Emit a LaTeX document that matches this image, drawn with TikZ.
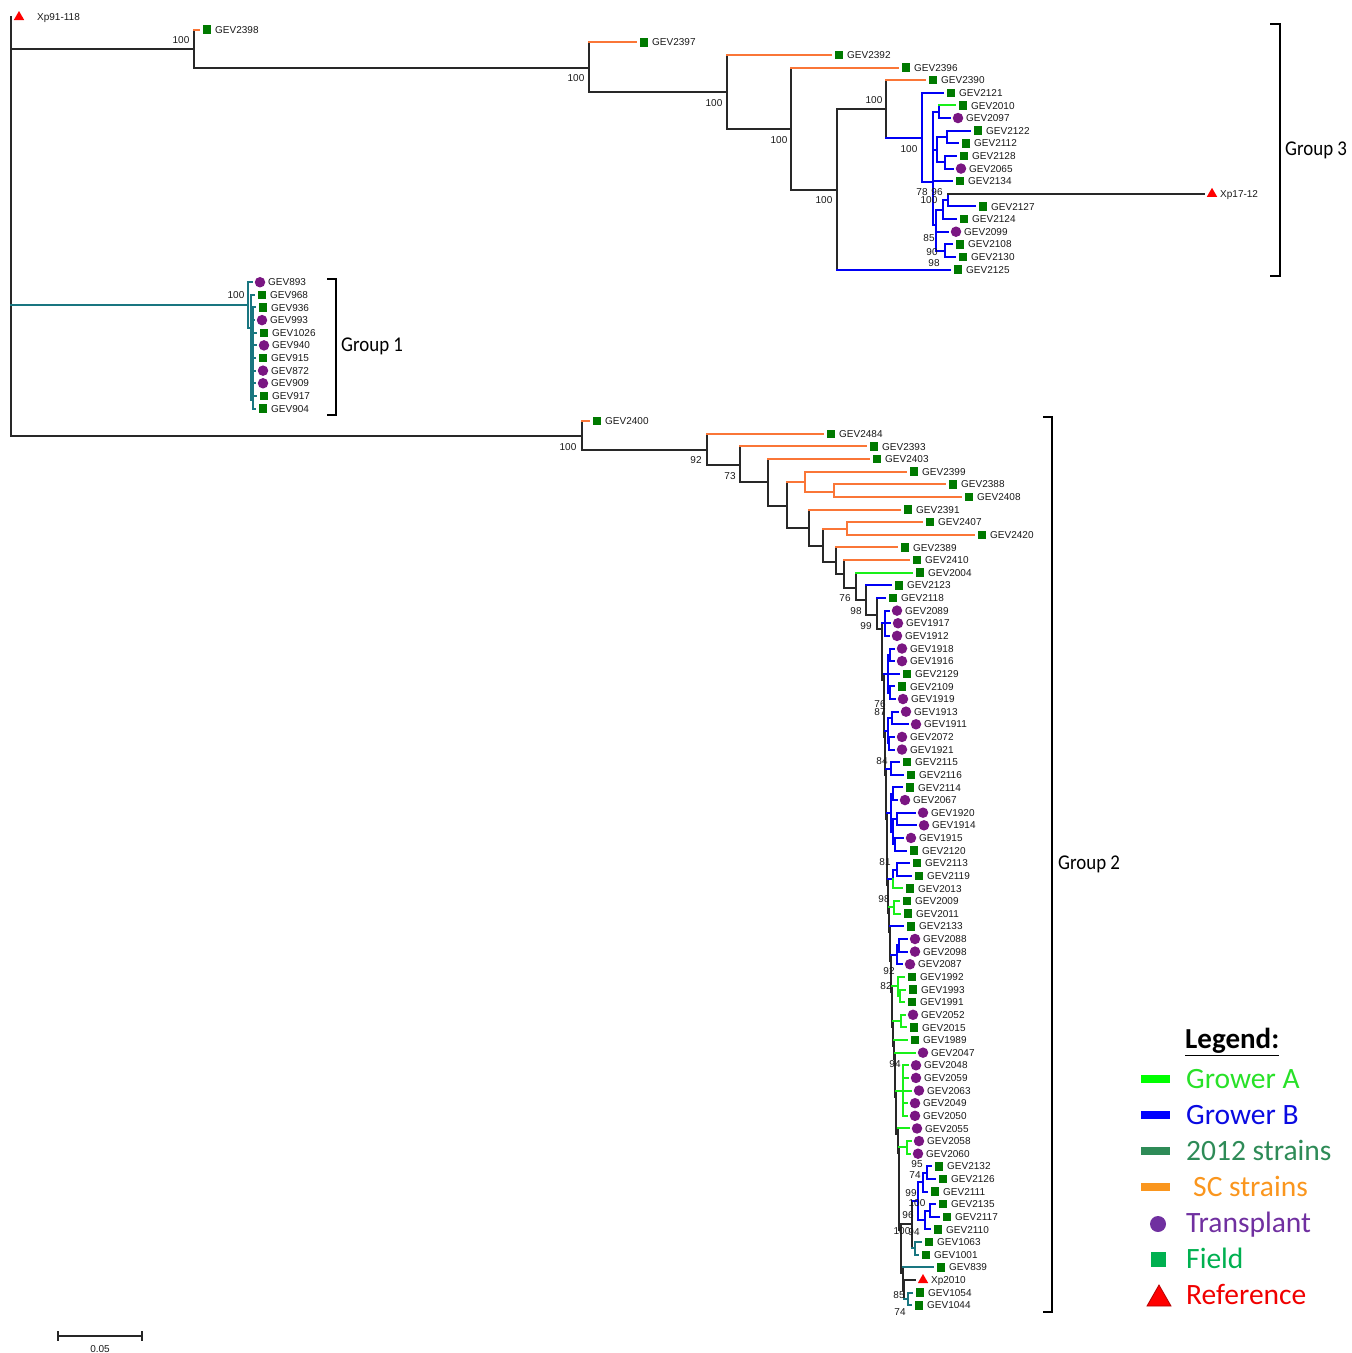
\documentclass[tikz,border=0pt]{standalone}
\usepackage{fontspec}
\setmainfont{Liberation Sans}
\newfontfamily\carlito{Carlito}
\usepackage{graphicx}
\usetikzlibrary{shapes.geometric}
\definecolor{orng}{RGB}{250,118,55}
\definecolor{grn}{RGB}{25,240,25}
\definecolor{blu}{RGB}{0,0,245}
\definecolor{tl}{RGB}{25,118,128}
\definecolor{blk}{RGB}{40,40,40}
\definecolor{sqg}{RGB}{0,122,0}
\definecolor{purp}{RGB}{122,22,130}
\definecolor{lgA}{RGB}{40,225,40}
\definecolor{lgB}{RGB}{10,10,225}
\definecolor{lg12}{RGB}{46,139,87}
\definecolor{lgSC}{RGB}{250,150,30}
\definecolor{lgT}{RGB}{112,48,160}
\definecolor{lgF}{RGB}{0,176,80}
\definecolor{lgR}{RGB}{240,0,0}
\newcommand\Y[1]{17+12.63*#1}
\tikzset{
 brl/.style={line width=2pt,line cap=rect},
 lbl/.style={anchor=west,inner sep=0pt,text=black!90,font=\fontsize{10}{12}\selectfont,text height=7.2pt,text depth=0pt},
 bs/.style={inner sep=0pt,text=black!90,font=\fontsize{10}{12}\selectfont,text height=7.2pt,text depth=0pt},
 mksq/.style={rectangle,fill=sqg,minimum size=8.5pt,inner sep=0pt},
 mkci/.style={circle,fill=purp,minimum size=10.5pt,inner sep=0pt},
 mktr/.style={regular polygon,regular polygon sides=3,fill=red,minimum size=12pt,inner sep=0pt},
 grp/.style={anchor=west,inner sep=0pt,font=\carlito\fontsize{21}{24}\selectfont},
 legt/.style={anchor=west,inner sep=0pt,font=\carlito\fontsize{29.5}{32}\selectfont,text height=19.5pt,text depth=0pt},
 bracket/.style={line width=1.8pt,black},
}
\newcommand\leaf[6]{%
 \draw[brl,#4] (#2,\Y{#1}) -- (#3,\Y{#1});
 \node[#5] (m#1) at ({#3+8},\Y{#1}) {};
 \node[lbl] (t#1) at ({#3+16},\Y{#1}) {#6};
}
\begin{document}
\begin{tikzpicture}[x=1pt,y=-1pt]
\useasboundingbox (0,0) rectangle (1352,1353);
% ---------- root and group 3 ----------
\draw[brl,blk] (11,\Y{0}) -- (11,436);
\node[mktr] (m0) at (19,\Y{0}) {};
\node[lbl] (t0) at (37,\Y{0}) {Xp91-118};
\draw[brl,blk] (11,49) -- (194,49);
\draw[brl,blk] (194,\Y{1}) -- (194,68) -- (589,68);
\draw[brl,blk] (589,\Y{2}) -- (589,92) -- (727,92);
\draw[brl,blk] (727,\Y{3}) -- (727,129) -- (791,129);
\draw[brl,blk] (791,\Y{4}) -- (791,190) -- (837,190);
\draw[brl,blk] (837,\Y{20}) -- (837,109) -- (886,109);
\draw[brl,blk] (886,\Y{5}) -- (886,138);
\draw[brl,blu] (886,138) -- (922,138);
\draw[brl,blu] (922,\Y{6}) -- (922,182) -- (933,182);
\draw[brl,blu] (933,111.7) -- (933,225);
\draw[brl,blu] (933,111.7) -- (939,111.7) (939,\Y{7}) -- (939,\Y{8});
\draw[brl,blu] (933,149.6) -- (937,149.6) (937,137) -- (937,162.3)
  (937,137) -- (947,137) (947,\Y{9}) -- (947,\Y{10})
  (937,162.3) -- (945,162.3) (945,\Y{11}) -- (945,\Y{12});
\draw[brl,blu] (933,225) -- (936,225) (936,209.6) -- (936,250.6)
  (936,209.6) -- (943,209.6) (943,200.1) -- (943,\Y{16})
  (943,200.1) -- (948,200.1) (948,\Y{14}) -- (948,\Y{15})
  (936,250.6) -- (945,250.6) (945,\Y{18}) -- (945,\Y{19});
\leaf{1}{194}{199}{orng}{mksq}{GEV2398}
\leaf{2}{589}{636}{orng}{mksq}{GEV2397}
\leaf{3}{727}{831}{orng}{mksq}{GEV2392}
\leaf{4}{791}{898}{orng}{mksq}{GEV2396}
\leaf{5}{886}{925}{orng}{mksq}{GEV2390}
\leaf{6}{922}{943}{blu}{mksq}{GEV2121}
\leaf{7}{939}{955}{grn}{mksq}{GEV2010}
\leaf{8}{939}{950}{blu}{mkci}{GEV2097}
\leaf{9}{947}{970}{blu}{mksq}{GEV2122}
\leaf{10}{947}{958}{blu}{mksq}{GEV2112}
\leaf{11}{945}{956}{blu}{mksq}{GEV2128}
\leaf{12}{945}{953}{blu}{mkci}{GEV2065}
\leaf{13}{933}{952}{blu}{mksq}{GEV2134}
\leaf{14}{948}{1204}{blk}{mktr}{Xp17-12}
\leaf{15}{948}{975}{blu}{mksq}{GEV2127}
\leaf{16}{943}{956}{blu}{mksq}{GEV2124}
\leaf{17}{936}{948}{blu}{mkci}{GEV2099}
\leaf{18}{945}{952}{blu}{mksq}{GEV2108}
\leaf{19}{945}{955}{blu}{mksq}{GEV2130}
\leaf{20}{837}{950}{blu}{mksq}{GEV2125}
% ---------- group 1 ----------
\draw[brl,tl] (11,305) -- (248,305);
\draw[brl,tl] (248,\Y{21}) -- (248,328) -- (251,328);
\draw[brl,tl] (251,\Y{22}) -- (251,400) (251,354) -- (253,354) (253,\Y{23}) -- (253,\Y{31});
\leaf{21}{248}{252}{tl}{mkci}{GEV893}
\leaf{22}{251}{254}{tl}{mksq}{GEV968}
\leaf{23}{253}{255}{tl}{mksq}{GEV936}
\leaf{24}{251}{254}{tl}{mkci}{GEV993}
\leaf{25}{253}{256}{tl}{mksq}{GEV1026}
\leaf{26}{253}{256}{tl}{mkci}{GEV940}
\leaf{27}{253}{255}{tl}{mksq}{GEV915}
\leaf{28}{253}{255}{tl}{mkci}{GEV872}
\leaf{29}{253}{255}{tl}{mkci}{GEV909}
\leaf{30}{253}{256}{tl}{mksq}{GEV917}
\leaf{31}{253}{255}{tl}{mksq}{GEV904}
% ---------- group 2 ----------
\draw[brl,blk] (11,436) -- (582,436);
\draw[brl,blk] (582,\Y{32}) -- (582,450) -- (707,450);
\draw[brl,blk] (707,\Y{33}) -- (707,465) -- (740,465);
\draw[brl,blk] (740,\Y{34}) -- (740,482) -- (768,482);
\draw[brl,blk] (768,\Y{35}) -- (768,506) -- (787,506);
\draw[brl,blk] (787,482) -- (787,528) -- (809,528);
\draw[brl,orng] (787,482) -- (805,482) (805,\Y{36}) -- (805,492) -- (834,492) (834,\Y{37}) -- (834,\Y{38});
\draw[brl,blk] (809,\Y{39}) -- (809,546) -- (823,546);
\draw[brl,blk] (823,529) -- (823,562) -- (836,562);
\draw[brl,orng] (823,529) -- (847,529) (847,\Y{40}) -- (847,\Y{41});
\draw[brl,blk] (836,\Y{42}) -- (836,574) -- (844,574);
\draw[brl,blk] (844,\Y{43}) -- (844,588) -- (856,588);
\draw[brl,blk] (856,\Y{44}) -- (856,600) -- (866,600);
\draw[brl,blk] (866,\Y{45}) -- (866,615) -- (877,615);
\draw[brl,blk] (877,\Y{46}) -- (877,629) -- (882,629);
% spine
\foreach \x/\y/\nx/\ny in {882/623/884/679.8, 884/673.8/885/736.6, 885/730.6/886/774.5,
  886/768.5/887/818.7, 887/812.7/888/885, 888/879/889/913.4, 889/907.4/890/932.4,
  890/926.4/891/960.8, 891/954.8/892/992.4, 892/986.4/893/1027.1, 893/1021.1/894/1046,
  894/1040/895/1058.7, 895/1052.7/896/1096.6, 896/1090.6/898/1134.4, 898/1128.4/899/1153.4,
  899/1147.4/901/1230, 901/1224/903/1273.4, 903/1267.4/904/1290}
  {\draw[brl,blk] (\x,\y) -- (\x,\ny) -- (\nx,\ny);}
\draw[brl,blk] (904,1280) -- (904,1299);
% colored subclades
\draw[brl,blu] (882,623) -- (885,623) (885,\Y{47}) -- (885,\Y{49});
\draw[brl,blu] (884,673.8) -- (888,673.8) (888,654.8) -- (888,692.7)
  (888,654.8) -- (890,654.8) (890,\Y{50}) -- (890,\Y{51})
  (888,692.7) -- (890,692.7) (890,\Y{53}) -- (890,\Y{54});
\draw[brl,blu] (885,730.6) -- (888,730.6) (888,718) -- (888,743.2)
  (888,718) -- (892,718) (892,\Y{55}) -- (892,\Y{56})
  (888,743.2) -- (889,743.2) (889,\Y{57}) -- (889,\Y{58});
\draw[brl,blu] (886,768.5) -- (891,768.5) (891,\Y{59}) -- (891,\Y{60});
\draw[brl,blu] (887,812.7) -- (891,812.7) (891,793.7) -- (891,831.6)
  (891,793.7) -- (893,793.7) (893,\Y{61}) -- (893,\Y{62})
  (891,831.6) -- (893,831.6) (893,819) -- (893,844.3)
  (893,819) -- (897,819) (897,\Y{63}) -- (897,\Y{64})
  (893,844.3) -- (895,844.3) (895,\Y{65}) -- (895,\Y{66});
\draw[brl,blu] (888,879) -- (893,879) (893,869.5) -- (893,879)
  (893,869.5) -- (897,869.5) (897,\Y{67}) -- (897,\Y{68});
\draw[brl,grn] (893,879) -- (893,\Y{69});
\draw[brl,grn] (889,907.4) -- (894,907.4) (894,\Y{70}) -- (894,\Y{71});
\draw[brl,blu] (891,954.8) -- (897,954.8) (897,945.3) -- (897,\Y{75})
  (897,945.3) -- (899,945.3) (899,\Y{73}) -- (899,\Y{74});
\draw[brl,grn] (892,986.4) -- (898,986.4) (898,\Y{76}) -- (898,995.8)
  (898,995.8) -- (900,995.8) (900,\Y{77}) -- (900,\Y{78});
\draw[brl,grn] (893,1021.1) -- (901,1021.1) (901,\Y{79}) -- (901,\Y{80});
\draw[brl,grn] (896,1090.6) -- (903,1090.6) (903,\Y{83}) -- (903,\Y{87});
\draw[brl,grn] (899,1147.4) -- (907,1147.4) (907,\Y{89}) -- (907,\Y{90});
\draw[brl,blk] (901,1224) -- (912,1224) (912,1201) -- (912,1248.4);
\draw[brl,blu] (912,1201) -- (918,1201) (918,1182) -- (918,1220)
  (918,1182) -- (923,1182) (923,1172.7) -- (923,\Y{93})
  (923,1172.7) -- (927,1172.7) (927,\Y{91}) -- (927,\Y{92})
  (918,1220) -- (925,1220) (925,1210.6) -- (925,\Y{96})
  (925,1210.6) -- (930,1210.6) (930,\Y{94}) -- (930,\Y{95});
\draw[brl,tl] (912,1248.4) -- (915,1248.4) (915,\Y{97}) -- (915,\Y{98});
\draw[brl,tl] (904,1299) -- (908,1299) (908,\Y{101}) -- (908,\Y{102});
\leaf{32}{582}{589}{orng}{mksq}{GEV2400}
\leaf{33}{707}{823}{orng}{mksq}{GEV2484}
\leaf{34}{740}{866}{orng}{mksq}{GEV2393}
\leaf{35}{768}{869}{orng}{mksq}{GEV2403}
\leaf{36}{805}{906}{orng}{mksq}{GEV2399}
\leaf{37}{834}{945}{orng}{mksq}{GEV2388}
\leaf{38}{834}{961}{orng}{mksq}{GEV2408}
\leaf{39}{809}{900}{orng}{mksq}{GEV2391}
\leaf{40}{847}{922}{orng}{mksq}{GEV2407}
\leaf{41}{847}{974}{orng}{mksq}{GEV2420}
\leaf{42}{836}{897}{orng}{mksq}{GEV2389}
\leaf{43}{844}{909}{orng}{mksq}{GEV2410}
\leaf{44}{856}{912}{grn}{mksq}{GEV2004}
\leaf{45}{866}{891}{blu}{mksq}{GEV2123}
\leaf{46}{877}{885}{blu}{mksq}{GEV2118}
\leaf{47}{885}{889}{blu}{mkci}{GEV2089}
\leaf{48}{885}{890}{blu}{mkci}{GEV1917}
\leaf{49}{885}{889}{blu}{mkci}{GEV1912}
\leaf{50}{890}{894}{blu}{mkci}{GEV1918}
\leaf{51}{890}{894}{blu}{mkci}{GEV1916}
\leaf{52}{888}{899}{blu}{mksq}{GEV2129}
\leaf{53}{890}{894}{blu}{mksq}{GEV2109}
\leaf{54}{890}{895}{blu}{mkci}{GEV1919}
\leaf{55}{892}{898}{blu}{mkci}{GEV1913}
\leaf{56}{892}{908}{blu}{mkci}{GEV1911}
\leaf{57}{889}{894}{blu}{mkci}{GEV2072}
\leaf{58}{889}{894}{blu}{mkci}{GEV1921}
\leaf{59}{891}{899}{blu}{mksq}{GEV2115}
\leaf{60}{891}{903}{blu}{mksq}{GEV2116}
\leaf{61}{893}{902}{blu}{mksq}{GEV2114}
\leaf{62}{893}{897}{blu}{mkci}{GEV2067}
\leaf{63}{897}{915}{blu}{mkci}{GEV1920}
\leaf{64}{897}{916}{blu}{mkci}{GEV1914}
\leaf{65}{895}{903}{blu}{mkci}{GEV1915}
\leaf{66}{895}{906}{blu}{mksq}{GEV2120}
\leaf{67}{897}{909}{blu}{mksq}{GEV2113}
\leaf{68}{897}{911}{blu}{mksq}{GEV2119}
\leaf{69}{893}{902}{grn}{mksq}{GEV2013}
\leaf{70}{894}{899}{grn}{mksq}{GEV2009}
\leaf{71}{894}{900}{grn}{mksq}{GEV2011}
\leaf{72}{890}{903}{blu}{mksq}{GEV2133}
\leaf{73}{899}{907}{blu}{mkci}{GEV2088}
\leaf{74}{899}{907}{blu}{mkci}{GEV2098}
\leaf{75}{897}{902}{blu}{mkci}{GEV2087}
\leaf{76}{898}{904}{grn}{mksq}{GEV1992}
\leaf{77}{900}{905}{grn}{mksq}{GEV1993}
\leaf{78}{900}{904}{grn}{mksq}{GEV1991}
\leaf{79}{901}{905}{grn}{mkci}{GEV2052}
\leaf{80}{901}{906}{grn}{mksq}{GEV2015}
\leaf{81}{894}{907}{grn}{mksq}{GEV1989}
\leaf{82}{895}{915}{grn}{mkci}{GEV2047}
\leaf{83}{903}{908}{grn}{mkci}{GEV2048}
\leaf{84}{903}{908}{grn}{mkci}{GEV2059}
\leaf{85}{903}{911}{grn}{mkci}{GEV2063}
\leaf{86}{903}{907}{grn}{mkci}{GEV2049}
\leaf{87}{903}{907}{grn}{mkci}{GEV2050}
\leaf{88}{898}{909}{grn}{mkci}{GEV2055}
\leaf{89}{907}{911}{grn}{mkci}{GEV2058}
\leaf{90}{907}{910}{grn}{mkci}{GEV2060}
\leaf{91}{927}{931}{blu}{mksq}{GEV2132}
\leaf{92}{927}{935}{blu}{mksq}{GEV2126}
\leaf{93}{923}{927}{blu}{mksq}{GEV2111}
\leaf{94}{930}{935}{blu}{mksq}{GEV2135}
\leaf{95}{930}{939}{blu}{mksq}{GEV2117}
\leaf{96}{925}{930}{blu}{mksq}{GEV2110}
\leaf{97}{915}{921}{tl}{mksq}{GEV1063}
\leaf{98}{915}{918}{tl}{mksq}{GEV1001}
\leaf{99}{903}{933}{tl}{mksq}{GEV839}
\leaf{100}{904}{915}{blk}{mktr}{Xp2010}
\leaf{101}{908}{912}{tl}{mksq}{GEV1054}
\leaf{102}{908}{911}{tl}{mksq}{GEV1044}
% ---------- bootstrap values ----------
\foreach \x/\y/\t [count=\i] in {181/40/100, 576/78/100, 714/103/100, 779/140/100, 824/200/100,
  874/100/100, 909/149/100, 922/192/78, 937/192/96, 929/200/100, 929/238/85, 932/252/90,
  934/263/98, 236/295/100, 568/447/100, 696/460/92, 730/476/73, 845/598/76, 856/611/98,
  866/626/99, 880/704/76, 880/712/87, 882/761/84, 885/862/81, 884/899/98, 889/971/92,
  886/986/82, 895/1064/94, 917/1164/95, 915/1175/74, 911/1193/99, 917/1203/100,
  908/1215/96, 902/1231/100, 914/1232/94, 899/1295/85, 900/1312/74}
  {\node[bs] (bs\i) at (\x,\y) {\t};}
% ---------- group brackets ----------
\draw[bracket] (1270,24) -- (1280,24) -- (1280,276) -- (1270,276);
\node[grp] (g3) at (1285,150) {\scalebox{0.9}[1]{Group 3}};
\draw[bracket] (327,279) -- (336,279) -- (336,415) -- (327,415);
\node[grp] (g1) at (341,346) {\scalebox{0.9}[1]{Group 1}};
\draw[bracket] (1043,417) -- (1052,417) -- (1052,1312) -- (1043,1312);
\node[grp] (g2) at (1058,864) {\scalebox{0.9}[1]{Group 2}};
% ---------- legend ----------
\node[anchor=west,inner sep=0pt,font=\carlito\bfseries\fontsize{29}{32}\selectfont] (legt) at (1185,1042) {\underline{Legend:}};
\fill[green!100] (1141,1075) rectangle (1170,1083);
\node[legt,text=lgA] (lA) at (1186,1079) {Grower A};
\fill[blue] (1141,1111) rectangle (1170,1119);
\node[legt,text=lgB] (lB) at (1186,1115) {Grower B};
\fill[lg12] (1141,1147) rectangle (1170,1155);
\node[legt,text=lg12] (l12) at (1186,1151) {2012 strains};
\fill[lgSC] (1141,1183) rectangle (1170,1191);
\node[legt,text=lgSC] (lSC) at (1193,1187) {SC strains};
\fill[lgT] (1158,1224) circle (8);
\node[legt,text=lgT] (lT) at (1186,1223) {Transplant};
\fill[lgF] (1150.5,1251.5) rectangle (1165.5,1266.5);
\node[legt,text=lgF] (lF) at (1186,1259) {Field};
\filldraw[fill=red,draw=red!70!black,line width=0.8pt] (1147,1306) -- (1159,1285) -- (1171,1306) -- cycle;
\node[legt,text=lgR] (lR) at (1186,1295) {Reference};
% ---------- scale bar ----------
\draw[line width=1.6pt,black!85] (58,1336) -- (142,1336) (58,1331) -- (58,1341) (142,1331) -- (142,1341);
\node[bs] (scl) at (100,1349) {0.05};
\end{tikzpicture}
\end{document}
